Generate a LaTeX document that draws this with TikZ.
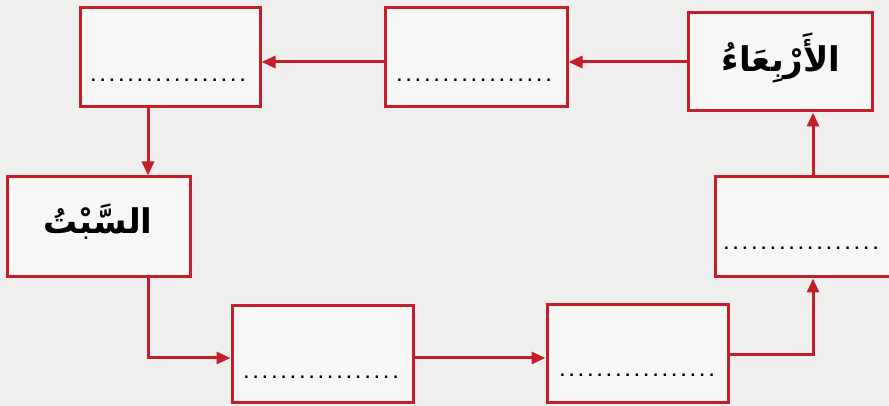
\documentclass[tikz,border=0pt]{standalone}
\usepackage{fontspec}
\setmainfont{Liberation Sans}
\newfontfamily\arabicfont[Script=Arabic]{DejaVu Sans}
\TeXXeTstate=1
\usetikzlibrary{arrows.meta}
\definecolor{boxred}{HTML}{C41E2A}
\definecolor{paper}{HTML}{EFEFED}
\definecolor{boxfill}{HTML}{F7F7F6}
\newcommand\dd{.\kern4.6pt}
\newcommand\dotrow{\dd\dd\dd\dd\dd\dd\dd\dd\dd\dd\dd\dd\dd\dd\dd\dd.}
\tikzset{
  daybox/.style={draw=boxred, line width=3pt, fill=boxfill, rectangle, inner sep=0pt},
  dotsline/.style={anchor=base, inner sep=1pt, font=\fontsize{17pt}{17pt}\selectfont\bfseries},
  dayname/.style={inner sep=1pt, font=\fontsize{34pt}{38pt}\selectfont\arabicfont\bfseries},
  flow/.style={draw=boxred, line width=3pt, -{Triangle[length=14pt,width=12pt]}}
}
\begin{document}
\begin{tikzpicture}[x=1pt,y=1pt]
\useasboundingbox (0,0) rectangle (889,406);
\fill[paper] (0,0) rectangle (889,406);
% boxes
\node[daybox, minimum width=180pt, minimum height=99pt] (A) at (170,348.5) {};
\node[daybox, minimum width=182pt, minimum height=99pt] (B) at (476,348.5) {};
\node[daybox, minimum width=184pt, minimum height=98pt] (C) at (780,344) {};
\node[daybox, minimum width=183pt, minimum height=100pt] (D) at (98.5,179) {};
\node[daybox, minimum width=182pt, minimum height=100pt] (E) at (806,179) {};
\node[daybox, minimum width=181pt, minimum height=97pt] (F) at (322.5,51.5) {};
\node[daybox, minimum width=181pt, minimum height=98pt] (G) at (637.5,52) {};
% texts
\node[dotsline] (Adots) at (168,324) {\dotrow};
\node[dotsline] (Bdots) at (474,324) {\dotrow};
\node[dotsline] (Edots) at (801,156) {\dotrow};
\node[dotsline] (Fdots) at (321,27) {\dotrow};
\node[dotsline] (Gdots) at (637,29) {\dotrow};
\node[dayname] (Ctext) at (781,348) {\beginR الأَرْبِعَاءُ\endR};
\node[dayname] (Dtext) at (98,184) {\beginR السَّبْتُ\endR};
% helper coordinates
\coordinate (ytop) at (0,344);
\coordinate (xad) at (148,0);
\coordinate (yfg) at (0,48);
\coordinate (yge) at (0,51);
\coordinate (xec) at (813,0);
% connectors
\draw[flow] (C.west |- ytop) -- (B.east |- ytop);
\draw[flow] (B.west |- ytop) -- (A.east |- ytop);
\draw[flow] (A.south -| xad) -- (D.north -| xad);
\draw[flow] (D.south -| xad) |- (F.west |- yfg);
\draw[flow] (F.east |- yfg) -- (G.west |- yfg);
\draw[flow] (G.east |- yge) -| (E.south -| xec);
\draw[flow] (E.north -| xec) -- (C.south -| xec);
\end{tikzpicture}
\end{document}
